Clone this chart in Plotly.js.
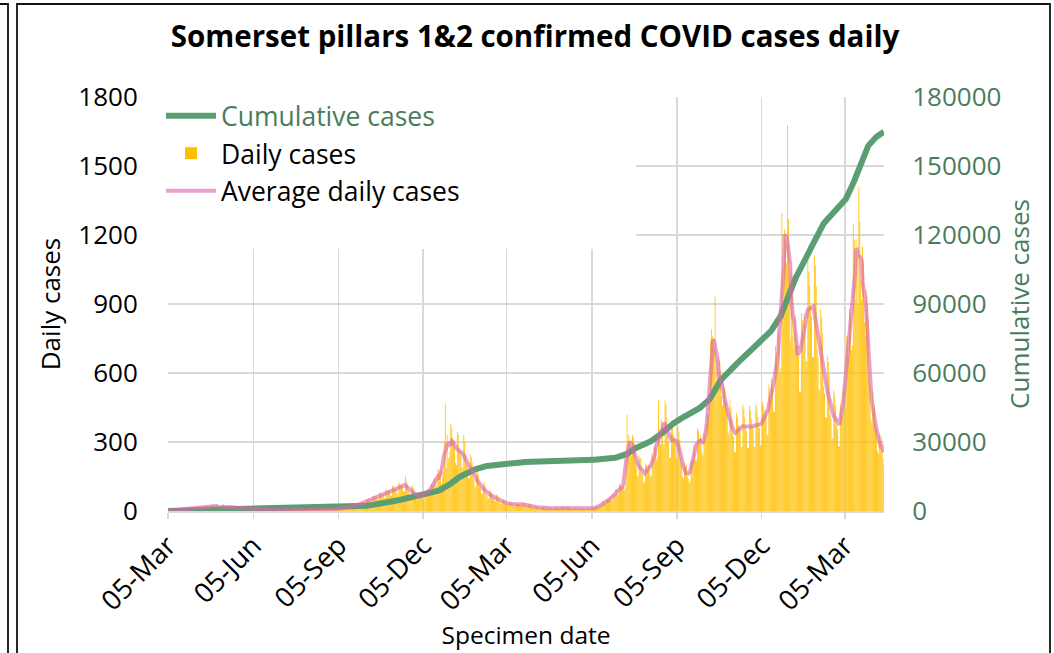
<!DOCTYPE html>
<html><head><meta charset="utf-8">
<script src="https://cdn.plot.ly/plotly-3.0.1.min.js"></script>
<style>html,body{margin:0;padding:0;background:#fff}#chart{width:1054px;height:653px}</style>
</head><body><div id="chart"></div>
<script>
// Somerset pillars 1&2 confirmed COVID cases, by specimen date, starting 2020-03-05 (one value per day)
const startDate = '2020-03-05';
const dailyCases = [
  0,1,0,1,2,1,2,  2,3,2,2,4,4,4,  5,6,4,5,8,7,7,  9,10,7,8,13,12,11,
  14,13,10,11,18,17,15,  18,17,13,14,23,22,19,  21,19,15,14,26,24,21,  24,20,17,16,30,26,21,
  20,19,15,14,32,22,18,  18,17,12,13,23,21,22,  15,14,11,11,19,18,17,  12,11,9,9,15,15,13,
  9,9,7,6,11,11,10,  6,6,4,4,8,7,7,  5,5,3,4,6,6,6,  4,4,3,3,5,5,4,
  4,4,3,3,5,5,4,  3,3,2,2,4,4,3,  3,3,2,2,4,3,4,  3,2,2,2,4,4,4,
  3,3,2,2,4,4,3,  3,3,2,3,4,3,3,  4,4,3,3,5,5,4,  4,4,3,3,5,5,4,
  5,5,4,4,6,6,5,  7,7,5,5,9,8,8,  10,9,7,8,13,12,11,  14,13,10,11,18,17,15,
  20,19,15,15,25,24,22,  28,27,21,21,35,34,30,  40,38,30,30,50,48,44,  52,49,39,39,65,62,58,
  65,62,49,49,81,78,71,  76,72,57,57,95,91,84,  88,84,66,66,110,106,96,  100,95,75,75,125,120,110,
  113,107,85,85,150,130,121,  90,86,68,67,112,108,99,  66,63,50,49,82,79,73,  68,65,51,51,85,82,74,
  95,90,71,71,119,114,105,  145,138,109,109,181,174,159,  180,120,150,170,300,469,186,  330,220,230,260,380,360,320,
  300,280,210,200,345,330,260,  260,240,190,185,330,300,245,  200,185,145,145,245,235,210,  140,133,105,105,175,168,154,
  100,95,75,75,125,120,110,  72,68,54,54,90,86,80,  58,55,43,44,72,70,64,  40,38,30,30,50,48,44,
  32,30,24,24,40,38,36,  27,26,20,20,34,32,30,  30,28,22,23,38,36,33,  24,23,18,18,30,29,26,
  18,17,13,14,23,22,19,  15,14,11,11,19,18,17,  13,12,10,10,16,16,14,  12,11,9,9,15,14,14,
  13,12,10,10,16,16,14,  13,12,10,10,16,16,14,  11,10,8,8,14,13,13,  9,9,7,6,11,11,10,
  9,8,7,7,11,11,10,  11,10,8,8,14,13,13,  20,19,15,15,25,24,22,  42,40,31,32,52,50,47,
  60,57,45,45,75,72,66,  95,90,71,71,119,114,105,  100,110,90,100,200,417,260,  330,300,250,240,330,320,290,
  210,190,150,150,240,230,230,  165,157,124,124,206,198,181,  200,190,150,150,250,240,220,  280,270,220,230,482,330,288,
  400,370,290,290,480,460,405,  330,300,230,230,380,370,330,  320,300,230,225,370,345,310,  230,210,150,140,210,190,200,
  150,140,120,130,210,220,220,  290,280,220,220,360,350,310,  330,310,250,240,340,330,300,  380,420,420,480,740,790,760,
  750,700,932,560,660,620,530,  650,610,500,460,580,540,480,  470,430,340,330,480,450,400,  340,323,255,255,425,408,374,
  370,352,278,278,462,444,407,  365,347,274,274,456,438,401,  370,352,278,278,462,444,407,  380,361,285,285,475,456,418,
  440,418,330,330,550,528,484,  575,546,431,431,719,690,633,  780,760,600,620,1296,1060,904,  1225,1176,1078,1678,1270,1020,740,
  1045,988,760,703,855,779,722,  720,680,520,520,860,830,770,  860,820,650,650,1090,1040,980,  890,846,668,668,1113,1068,979,
  703,668,527,527,879,844,773,  540,512,405,405,675,648,594,  420,400,315,315,525,503,460,  375,356,281,281,469,450,413,
  520,540,430,450,760,760,670,  880,860,700,720,1250,1180,920,  1180,1100,900,1410,1260,1000,920,  1150,1080,820,760,960,900,840,
  590,550,400,380,520,440,460,  380,350,260,250,340,310,330,  260,230,200
];
const tickDates  = ['2020-03-05','2020-06-05','2020-09-05','2020-12-05','2021-03-05','2021-06-05','2021-09-05','2021-12-05','2022-03-05'];
const tickLabels = ['05-Mar','05-Jun','05-Sep','05-Dec','05-Mar','05-Jun','05-Sep','05-Dec','05-Mar'];
const leftTicks  = [0,300,600,900,1200,1500,1800];
const rightTicks = [0,30000,60000,90000,120000,150000,180000];

// derived series
const t0 = new Date(startDate + 'T00:00:00Z');
const dates = dailyCases.map((_, i) => {
  const d = new Date(t0.getTime()); d.setUTCDate(d.getUTCDate() + i);
  return d.toISOString().slice(0, 10);
});
const cumulative = [];
dailyCases.reduce((s, v) => { s += v; cumulative.push(s); return s; }, 0);
const average = dailyCases.map((_, i) => {
  let s = 0, n = 0;
  for (let k = i - 3; k <= i + 3; k++) if (k >= 0 && k < dailyCases.length) { s += dailyCases[k]; n++; }
  return s / n;
});

// layout geometry (pixels of the 1054x653 picture)
const W = 1054, H = 653, L = 168, R = 884, T = 97, B = 511;
const px = x => (x - L) / (R - L), py = y => (B - y) / (B - T);
const GREEN = '#5A9E72', GREEN_TXT = '#4A7C5C', GRID = '#d9d9d9';

const traces = [
  { type: 'bar', x: dates, y: dailyCases, name: 'Daily cases', yaxis: 'y',
    marker: { color: '#FFC000', line: { width: 0 } }, legendrank: 2 },
  { type: 'scatter', mode: 'lines', x: dates, y: cumulative, yaxis: 'y2',
    name: '<span style="color:' + GREEN_TXT + '">Cumulative cases</span>',
    line: { color: GREEN, width: 6 }, legendrank: 1 },
  { type: 'scatter', mode: 'lines', x: dates, y: average, yaxis: 'y3',
    name: 'Average daily cases', line: { color: 'rgba(222,100,175,0.62)', width: 4 }, legendrank: 3 }
];

const layout = {
  width: W, height: H,
  margin: { l: L, r: W - R, t: T, b: H - B, pad: 0 },
  paper_bgcolor: '#fff', plot_bgcolor: '#fff',
  font: { family: '"Open Sans", sans-serif', color: '#000' },
  showlegend: true, hovermode: false, bargap: 0.12,
  title: { text: 'Somerset pillars 1&2 confirmed COVID cases daily',
    font: { size: 29.5, weight: 'bold', color: '#000' },
    x: 535 / W, xanchor: 'center', y: 1 - 37 / H, yanchor: 'middle' },
  xaxis: { type: 'date', range: [startDate, '2022-04-16 03:00'],
    tickmode: 'array', tickvals: tickDates, ticktext: tickLabels, tickangle: -45,
    tickfont: { size: 27.5 }, ticks: 'outside', ticklen: 6, tickcolor: GRID, tickwidth: 1.5,
    showline: true, linecolor: GRID, linewidth: 1.5,
    showgrid: true, gridcolor: GRID, gridwidth: 1.5, zeroline: false,
    title: { text: 'Specimen date', font: { size: 24.5 }, standoff: 4 } },
  yaxis: { range: [0, 1800], tickmode: 'array', tickvals: leftTicks, tickfont: { size: 26 },
    ticks: 'outside', ticklen: 24, tickcolor: 'rgba(0,0,0,0)',
    showgrid: true, gridcolor: GRID, gridwidth: 1.5, zeroline: false, showline: false,
    title: { text: 'Daily cases', font: { size: 26 }, standoff: 10 } },
  yaxis2: { overlaying: 'y', side: 'right', range: [0, 180000], tickmode: 'array', tickvals: rightTicks,
    tickformat: 'd', tickfont: { size: 26, color: GREEN_TXT },
    ticks: 'outside', ticklen: 22, tickcolor: 'rgba(0,0,0,0)',
    showgrid: false, zeroline: false, showline: false,
    title: { text: 'Cumulative cases', font: { size: 26, color: GREEN_TXT }, standoff: 8 } },
  yaxis3: { overlaying: 'y', range: [0, 1800], visible: false },
  legend: { x: px(161), y: py(92), xanchor: 'left', yanchor: 'top', bgcolor: 'rgba(0,0,0,0)',
    font: { size: 26.5, color: '#000' }, itemwidth: 50, traceorder: 'normal' },
  shapes: [
    { type: 'rect', xref: 'paper', yref: 'paper', layer: 'above',
      x0: px(165), x1: px(636), y0: py(249), y1: py(95), fillcolor: '#fff', line: { width: 0 } },
    { type: 'rect', xref: 'paper', yref: 'paper', layer: 'above',
      x0: px(17), x1: px(1050), y0: py(680), y1: py(4), fillcolor: 'rgba(0,0,0,0)',
      line: { color: '#111', width: 1.8 } },
    { type: 'path', xref: 'paper', yref: 'paper', layer: 'above',
      path: 'M ' + px(-2) + ',' + py(4) + ' L ' + px(8) + ',' + py(4) + ' L ' + px(8) + ',' + py(680),
      line: { color: '#111', width: 1.8 } }
  ]
};

Plotly.newPlot('chart', traces, layout, { staticPlot: true, displayModeBar: false });
</script>
</body></html>
